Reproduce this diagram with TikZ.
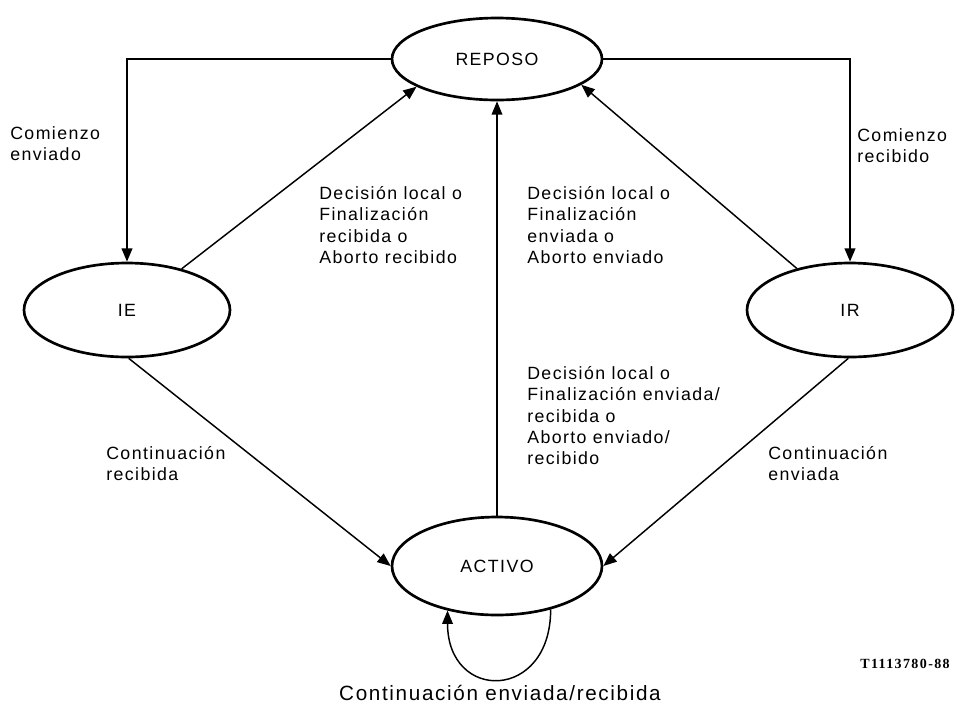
\documentclass[tikz,border=0pt]{standalone}
\usepackage{fontspec}
\setmainfont{Liberation Sans}[LetterSpace=8]
\newfontfamily\codefont{Liberation Serif}[LetterSpace=10]
\usetikzlibrary{shapes.geometric,arrows.meta}
\newcommand{\labfont}{\fontsize{13.3pt}{16pt}\selectfont}
\newcommand{\loopfont}{\fontsize{15.5pt}{18pt}\selectfont}
\begin{document}
\begin{tikzpicture}[x=0.75pt,y=-0.75pt,
  state/.style={draw, ellipse, line width=2pt, inner sep=0pt, font=\labfont},
  feed/.style={line width=1.5pt, -{Triangle[length=10pt,width=8pt]}},
  conn/.style={line width=1.1pt, -{Triangle[length=10pt,width=8pt]}},
  lab/.style={anchor=north west, align=left, inner sep=0pt, font=\labfont}]
\path[use as bounding box] (0,0) rectangle (960,708);

% states
\node[state, minimum width=157.5pt, minimum height=61.5pt] (reposo) at (497,59) {REPOSO};
\node[state, minimum width=154.5pt, minimum height=70.5pt] (ie) at (127,310) {IE};
\node[state, minimum width=154.5pt, minimum height=70.5pt] (ir) at (850,310) {IR};
\node[state, minimum width=157.5pt, minimum height=73.5pt] (activo) at (497,566) {ACTIVO};

% transitions
\draw[feed] (reposo.west) -| (ie.north);
\draw[feed] (reposo.east) -| (ir.north);
\draw[conn] (ie.37) -- (reposo.199);
\draw[conn] (activo.north) -- (reposo.south);
\draw[conn] (ir.142) -- (reposo.343);
\draw[conn] (ie.-88) -- (activo.west);
\draw[conn] (ir.-92) -- (activo.east);
\draw[conn] (activo.-39) .. controls +(0,92) and +(0,92) .. (activo.-138);

% transition labels
\node[lab] (lce) at (10,126) {Comienzo\\enviado};
\node[lab] (lcr) at (857,128) {Comienzo\\recibido};
\node[lab] (lfr) at (319,186) {Decisión local o\\Finalización\\recibida o\\Aborto recibido};
\node[lab] (lfe) at (527,186) {Decisión local o\\Finalización\\enviada o\\Aborto enviado};
\node[lab] (lfa) at (527,366) {Decisión local o\\Finalización enviada/\\recibida o\\Aborto enviado/\\recibido};
\node[lab] (lcor) at (106,446) {Continuación\\recibida};
\node[lab] (lcoe) at (768,446) {Continuación\\enviada};
\node[anchor=north, inner sep=0pt, font=\loopfont] (lcoa) at (500,685) {Continuación enviada/recibida};
\node[anchor=north east, inner sep=0pt, font=\codefont\bfseries\fontsize{10.5pt}{12pt}\selectfont] (code) at (950,659) {T1113780-88};
\end{tikzpicture}
\end{document}
